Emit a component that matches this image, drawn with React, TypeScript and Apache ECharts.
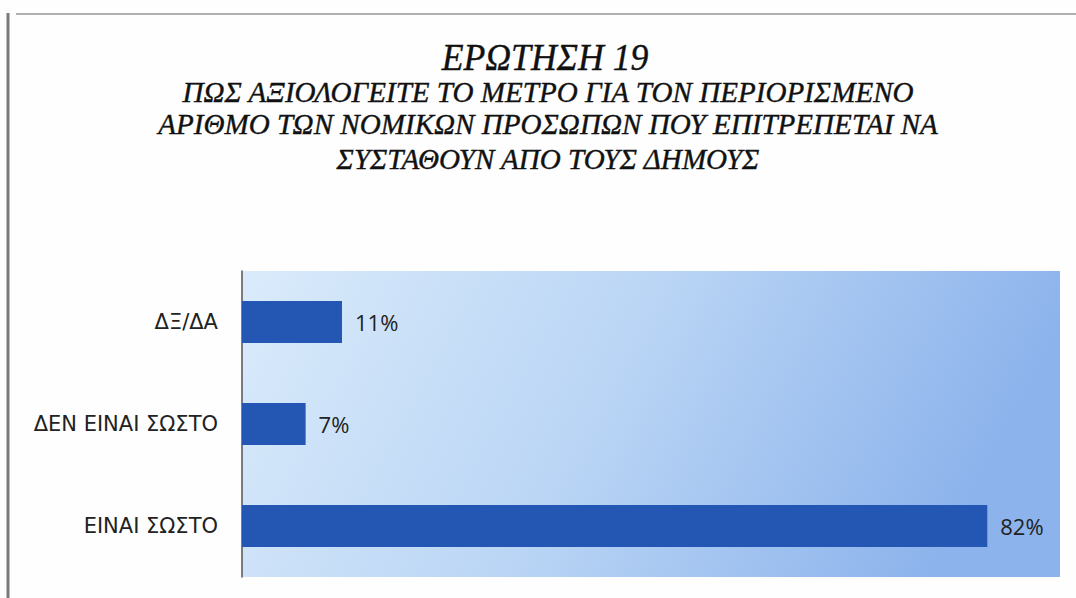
import React, { useEffect, useRef } from "react";
import * as echarts from "echarts";

const categories = ["ΕΙΝΑΙ ΣΩΣΤΟ", "ΔΕΝ ΕΙΝΑΙ ΣΩΣΤΟ", "ΔΞ/ΔΑ"];
const values = [82, 7, 11];
const titleText = "ΕΡΩΤΗΣΗ 19";
const subtitleLines = [
  "ΠΩΣ ΑΞΙΟΛΟΓΕΙΤΕ ΤΟ ΜΕΤΡΟ ΓΙΑ ΤΟΝ ΠΕΡΙΟΡΙΣΜΕΝΟ",
  "ΑΡΙΘΜΟ ΤΩΝ ΝΟΜΙΚΩΝ ΠΡΟΣΩΠΩΝ ΠΟΥ ΕΠΙΤΡΕΠΕΤΑΙ ΝΑ",
  "ΣΥΣΤΑΘΟΥΝ ΑΠΟ ΤΟΥΣ ΔΗΜΟΥΣ",
];

export default function App() {
  const ref = useRef<HTMLDivElement>(null);
  useEffect(() => {
    document.body.style.margin = "0";
    const chart = echarts.init(ref.current!, null, { renderer: "svg" });
    const serif = "Liberation Serif";
    const lineY = [92, 124, 159];
    chart.setOption({
      animation: false,
      backgroundColor: "#fdfefd",
      graphic: [
        {
          type: "line",
          shape: { x1: 8, y1: 13, x2: 8, y2: 598 },
          style: { stroke: "#7a7a7a", lineWidth: 3 },
        },
        {
          type: "line",
          shape: { x1: 16, y1: 14, x2: 1076, y2: 14 },
          style: { stroke: "#b0b0b0", lineWidth: 2 },
        },
        {
          type: "text",
          x: 545,
          y: 57,
          scaleX: 0.94,
          style: {
            text: titleText,
            fontFamily: serif,
            fontStyle: "italic",
            fontSize: 38,
            fill: "#111",
            stroke: "#111",
            lineWidth: 0.4,
            align: "center",
            verticalAlign: "middle",
          },
        },
        ...subtitleLines.map((t, i) => ({
          type: "text",
          x: 548,
          y: lineY[i],
          scaleX: 0.97,
          style: {
            text: t,
            fontFamily: serif,
            fontStyle: "italic",
            fontSize: 30,
            fill: "#111",
            stroke: "#111",
            lineWidth: 0.4,
            align: "center",
            verticalAlign: "middle",
          },
        })),
      ],
      grid: {
        left: 242,
        right: 16,
        top: 271,
        bottom: 21,
        show: true,
        borderWidth: 0,
        backgroundColor: new echarts.graphic.LinearGradient(0, 0, 1, 0.2, [
          { offset: 0, color: "#daebfb" },
          { offset: 0.5, color: "#bad5f5" },
          { offset: 1, color: "#8cb3ec" },
        ]),
      },
      xAxis: { type: "value", min: 0, max: 90, show: false },
      yAxis: {
        type: "category",
        data: categories,
        axisLine: { show: true, lineStyle: { color: "#555", width: 1.5 } },
        axisTick: { show: false },
        axisLabel: { margin: 24, fontSize: 21, fontFamily: "DejaVu Sans", color: "#222" },
        splitLine: { show: false },
      },
      series: [
        {
          type: "bar",
          data: values,
          barWidth: 42,
          itemStyle: { color: "#2456b3" },
          label: {
            show: true,
            position: "right",
            distance: 13,
            formatter: "{c}%",
            fontSize: 22,
            fontFamily: "Open Sans",
            color: "#222",
          },
        },
      ],
    });
    return () => chart.dispose();
  }, []);
  return <div ref={ref} style={{ width: 1076, height: 598, position: "fixed", left: 0, top: 0 }} />;
}
